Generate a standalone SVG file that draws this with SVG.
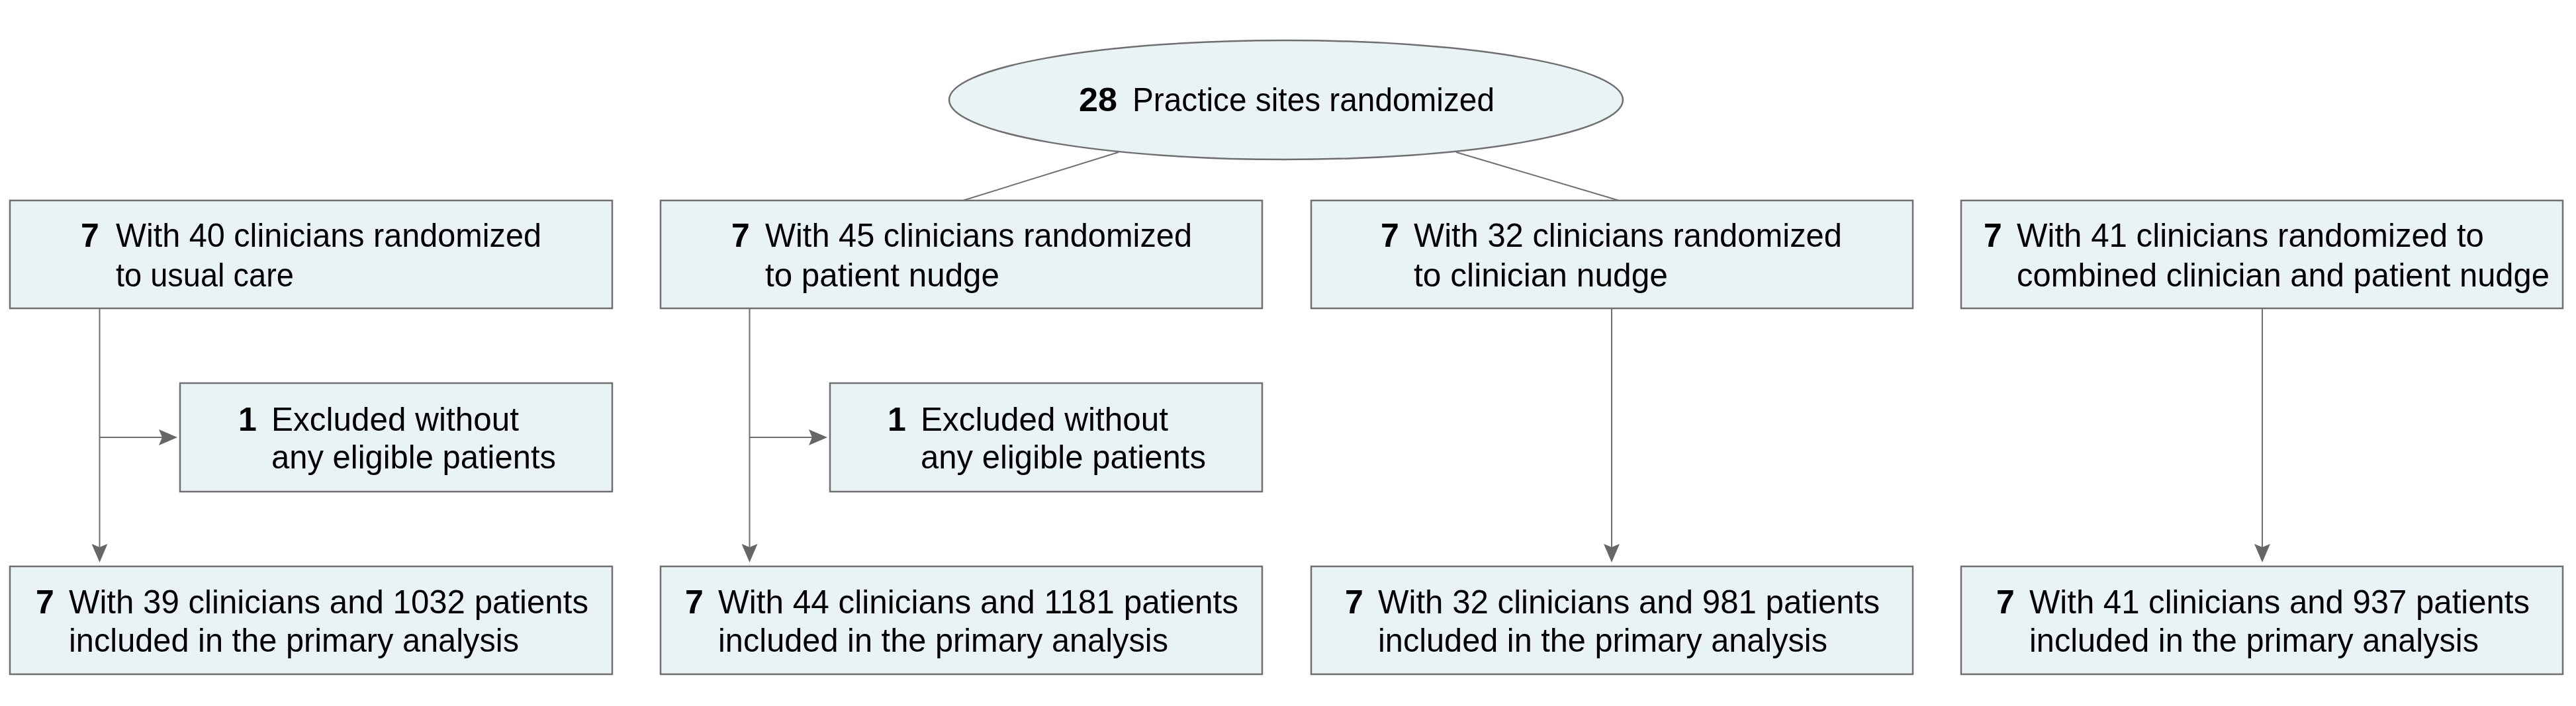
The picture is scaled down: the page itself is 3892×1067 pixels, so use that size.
<svg xmlns="http://www.w3.org/2000/svg" width="3892" height="1067" viewBox="0 0 3892 1067">
  <style>
    .box { fill: #e9f3f5; stroke: #6f6f6f; stroke-width: 2.5; }
    .conn { fill: none; stroke: #6f6f6f; stroke-width: 2; }
    text { font-family: "Liberation Sans", Arial, sans-serif; font-size: 50px; fill: #000; }
    .num { font-weight: bold; }
  </style>
  <defs>
    <marker id="arrow" markerUnits="userSpaceOnUse" viewBox="0 0 28 24" markerWidth="28" markerHeight="24" refX="18" refY="12" orient="auto">
      <path d="M0,0 L28,12 L0,24 L5,12 Z" fill="#666666"/>
    </marker>
  </defs>
  <rect width="3892" height="1067" fill="#ffffff"/>

  <g id="connectors">
    <line class="conn" x1="1690" y1="230" x2="1455" y2="303"/>
    <line class="conn" x1="2200" y1="230" x2="2446" y2="303"/>
    <line class="conn" x1="150.5" y1="466" x2="150.5" y2="840" marker-end="url(#arrow)"/>
    <line class="conn" x1="150.5" y1="661" x2="258" y2="661" marker-end="url(#arrow)"/>
    <line class="conn" x1="1132.5" y1="466" x2="1132.5" y2="840" marker-end="url(#arrow)"/>
    <line class="conn" x1="1132.5" y1="661" x2="1240" y2="661" marker-end="url(#arrow)"/>
    <line class="conn" x1="2435" y1="466" x2="2435" y2="840" marker-end="url(#arrow)"/>
    <line class="conn" x1="3418" y1="466" x2="3418" y2="840" marker-end="url(#arrow)"/>
  </g>

  <g id="randomized">
    <ellipse class="box" cx="1943" cy="151" rx="509" ry="90"/>
    <text y="168"><tspan class="num" x="1630" textLength="58" lengthAdjust="spacingAndGlyphs">28</tspan></text>
    <text x="1711" y="168" textLength="547" lengthAdjust="spacingAndGlyphs">Practice sites randomized</text>
  </g>

  <g id="arm-usual-care">
    <rect class="box" x="15" y="303" width="910" height="163"/>
    <text class="num" x="122" y="373">7</text>
    <text x="175" y="373" textLength="643" lengthAdjust="spacingAndGlyphs">With 40 clinicians randomized</text>
    <text x="175" y="433" textLength="269" lengthAdjust="spacingAndGlyphs">to usual care</text>
  </g>

  <g id="arm-patient-nudge">
    <rect class="box" x="998" y="303" width="909" height="163"/>
    <text class="num" x="1105" y="373">7</text>
    <text x="1156" y="373" textLength="645" lengthAdjust="spacingAndGlyphs">With 45 clinicians randomized</text>
    <text x="1156" y="433" textLength="354" lengthAdjust="spacingAndGlyphs">to patient nudge</text>
  </g>

  <g id="arm-clinician-nudge">
    <rect class="box" x="1981" y="303" width="909" height="163"/>
    <text class="num" x="2086" y="373">7</text>
    <text x="2136" y="373" textLength="647" lengthAdjust="spacingAndGlyphs">With 32 clinicians randomized</text>
    <text x="2136" y="433" textLength="384" lengthAdjust="spacingAndGlyphs">to clinician nudge</text>
  </g>

  <g id="arm-combined-nudge">
    <rect class="box" x="2963" y="303" width="909" height="163"/>
    <text class="num" x="2997" y="373">7</text>
    <text x="3047" y="373" textLength="706" lengthAdjust="spacingAndGlyphs">With 41 clinicians randomized to</text>
    <text x="3047" y="433" textLength="805" lengthAdjust="spacingAndGlyphs">combined clinician and patient nudge</text>
  </g>

  <g id="excluded-usual-care">
    <rect class="box" x="272" y="579" width="653" height="164"/>
    <text class="num" x="360" y="651">1</text>
    <text x="410" y="651" textLength="374" lengthAdjust="spacingAndGlyphs">Excluded without</text>
    <text x="410" y="708" textLength="430" lengthAdjust="spacingAndGlyphs">any eligible patients</text>
  </g>

  <g id="excluded-patient-nudge">
    <rect class="box" x="1254" y="579" width="653" height="164"/>
    <text class="num" x="1341" y="651">1</text>
    <text x="1391" y="651" textLength="374" lengthAdjust="spacingAndGlyphs">Excluded without</text>
    <text x="1391" y="708" textLength="431" lengthAdjust="spacingAndGlyphs">any eligible patients</text>
  </g>

  <g id="analysis-usual-care">
    <rect class="box" x="15" y="856" width="910" height="163"/>
    <text class="num" x="54" y="927">7</text>
    <text x="104" y="927" textLength="785" lengthAdjust="spacingAndGlyphs">With 39 clinicians and 1032 patients</text>
    <text x="104" y="985" textLength="680" lengthAdjust="spacingAndGlyphs">included in the primary analysis</text>
  </g>

  <g id="analysis-patient-nudge">
    <rect class="box" x="998" y="856" width="909" height="163"/>
    <text class="num" x="1035" y="927">7</text>
    <text x="1085" y="927" textLength="786" lengthAdjust="spacingAndGlyphs">With 44 clinicians and 1181 patients</text>
    <text x="1085" y="985" textLength="680" lengthAdjust="spacingAndGlyphs">included in the primary analysis</text>
  </g>

  <g id="analysis-clinician-nudge">
    <rect class="box" x="1981" y="856" width="909" height="163"/>
    <text class="num" x="2032" y="927">7</text>
    <text x="2082" y="927" textLength="758" lengthAdjust="spacingAndGlyphs">With 32 clinicians and 981 patients</text>
    <text x="2082" y="985" textLength="679" lengthAdjust="spacingAndGlyphs">included in the primary analysis</text>
  </g>

  <g id="analysis-combined-nudge">
    <rect class="box" x="2963" y="856" width="909" height="163"/>
    <text class="num" x="3016" y="927">7</text>
    <text x="3066" y="927" textLength="756" lengthAdjust="spacingAndGlyphs">With 41 clinicians and 937 patients</text>
    <text x="3066" y="985" textLength="679" lengthAdjust="spacingAndGlyphs">included in the primary analysis</text>
  </g>
</svg>
